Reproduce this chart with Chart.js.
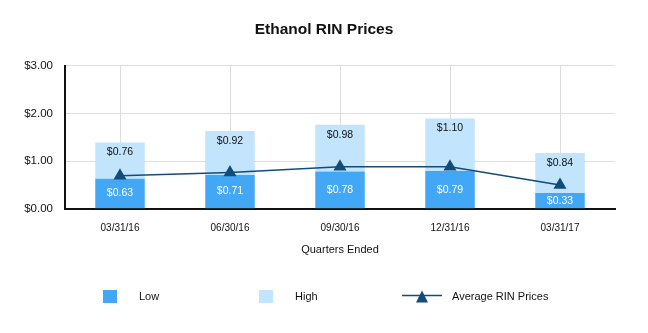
<!DOCTYPE html>
<html>
<head>
<meta charset="utf-8">
<script src="https://cdn.jsdelivr.net/npm/chart.js@4/dist/chart.umd.min.js"></script>
<style>
  html, body { margin: 0; padding: 0; background: #fff; }
  #wrap { width: 648px; height: 333px; }
</style>
</head>
<body>
<div id="wrap"><canvas id="ethanolChart" width="648" height="333"></canvas></div>
<script>
// values
const quarters = ['03/31/16', '06/30/16', '09/30/16', '12/31/16', '03/31/17'];
const lowPrices = [0.63, 0.71, 0.78, 0.79, 0.33];
const highPrices = [0.76, 0.92, 0.98, 1.10, 0.84];   // shown stacked on top of low
const avgPrices = [0.69, 0.76, 0.88, 0.88, 0.50];
const yTicks = [0, 1, 2, 3];

const FONT = "'Liberation Sans', Arial, sans-serif";
const LOW_COLOR = '#42a7f5';
const HIGH_COLOR = '#c2e4fc';
const LINE_COLOR = '#124c7c';

const money = v => '$' + v.toFixed(2);

// value labels inside the bars
const barLabels = {
    id: 'barLabels',
    afterDatasetsDraw(chart) {
        const ctx = chart.ctx;
        ctx.save();
        ctx.font = '10.5px ' + FONT;
        ctx.textAlign = 'center';
        ctx.textBaseline = 'middle';
        chart.getDatasetMeta(0).data.forEach((bar, i) => {
            ctx.fillStyle = '#ffffff';
            ctx.fillText(money(lowPrices[i]), bar.x, (bar.y + bar.base) / 2);
        });
        chart.getDatasetMeta(1).data.forEach((bar, i) => {
            ctx.fillStyle = '#111111';
            ctx.fillText(money(highPrices[i]), bar.x, bar.y + 10);
        });
        ctx.restore();
    }
};

// legend drawn under the axis title, spread across the width
const wideLegend = {
    id: 'wideLegend',
    afterDraw(chart) {
        const ctx = chart.ctx;
        const y = 296.5;
        ctx.save();
        ctx.font = '11px ' + FONT;
        ctx.textBaseline = 'middle';
        ctx.fillStyle = LOW_COLOR;
        ctx.fillRect(103, y - 6.5, 14, 13);
        ctx.fillStyle = HIGH_COLOR;
        ctx.fillRect(259, y - 6.5, 14, 13);
        ctx.fillStyle = '#111';
        ctx.fillText('Low', 139, y);
        ctx.fillText('High', 295, y);
        ctx.strokeStyle = LINE_COLOR;
        ctx.lineWidth = 1.5;
        ctx.beginPath();
        ctx.moveTo(402, y - 1);
        ctx.lineTo(442, y - 1);
        ctx.stroke();
        ctx.fillStyle = LINE_COLOR;
        ctx.beginPath();
        ctx.moveTo(422, y - 6);
        ctx.lineTo(428, y + 6);
        ctx.lineTo(416, y + 6);
        ctx.closePath();
        ctx.fill();
        ctx.fillStyle = '#111';
        ctx.fillText('Average RIN Prices', 452, y);
        ctx.restore();
    }
};

const ctx = document.getElementById('ethanolChart').getContext('2d');
new Chart(ctx, {
    type: 'bar',
    data: {
        labels: quarters,
        datasets: [
            {
                label: 'Low',
                data: lowPrices,
                backgroundColor: LOW_COLOR,
                stack: 'range',
                order: 2,
                barPercentage: 0.9,
                categoryPercentage: 0.5
            },
            {
                label: 'High',
                data: highPrices,
                backgroundColor: HIGH_COLOR,
                stack: 'range',
                order: 2,
                barPercentage: 0.9,
                categoryPercentage: 0.5
            },
            {
                type: 'line',
                label: 'Average RIN Prices',
                data: avgPrices,
                borderColor: LINE_COLOR,
                backgroundColor: LINE_COLOR,
                borderWidth: 1.5,
                pointStyle: 'triangle',
                pointRadius: 6,
                pointHoverRadius: 6,
                tension: 0,
                order: 1
            }
        ]
    },
    options: {
        responsive: false,
        animation: false,
        layout: { padding: { left: 0, right: 0, top: 0, bottom: 76 } },
        plugins: {
            legend: { display: false },
            tooltip: { enabled: false },
            title: {
                display: true,
                text: 'Ethanol RIN Prices',
                color: '#111',
                font: { family: FONT, size: 15.5, weight: 'bold' },
                padding: { top: 20, bottom: 27 }
            }
        },
        scales: {
            x: {
                stacked: true,
                grid: { color: '#dddddd', offset: false, drawTicks: false },
                border: { color: '#111', width: 2 },
                ticks: { color: '#111', font: { family: FONT, size: 10 }, padding: 13 },
                title: {
                    display: true,
                    text: 'Quarters Ended',
                    color: '#111',
                    font: { family: FONT, size: 11 },
                    padding: { top: -3, bottom: 0 }
                }
            },
            y: {
                stacked: true,
                min: 0,
                max: 3,
                afterFit(scale) { scale.width = 65; },
                afterBuildTicks(scale) { scale.ticks = yTicks.map(v => ({ value: v })); },
                grid: { color: '#dddddd', drawTicks: false },
                border: { color: '#111', width: 2 },
                ticks: {
                    color: '#111',
                    font: { family: FONT, size: 11.5 },
                    padding: 12,
                    callback: v => money(v)
                }
            },
            // empty right-hand axis: keeps the plot off the right edge
            yRight: {
                position: 'right',
                min: 0,
                max: 3,
                afterFit(scale) { scale.width = 33; },
                grid: { display: false },
                border: { display: false },
                ticks: { display: false }
            }
        }
    },
    plugins: [barLabels, wideLegend]
});
</script>
</body>
</html>
